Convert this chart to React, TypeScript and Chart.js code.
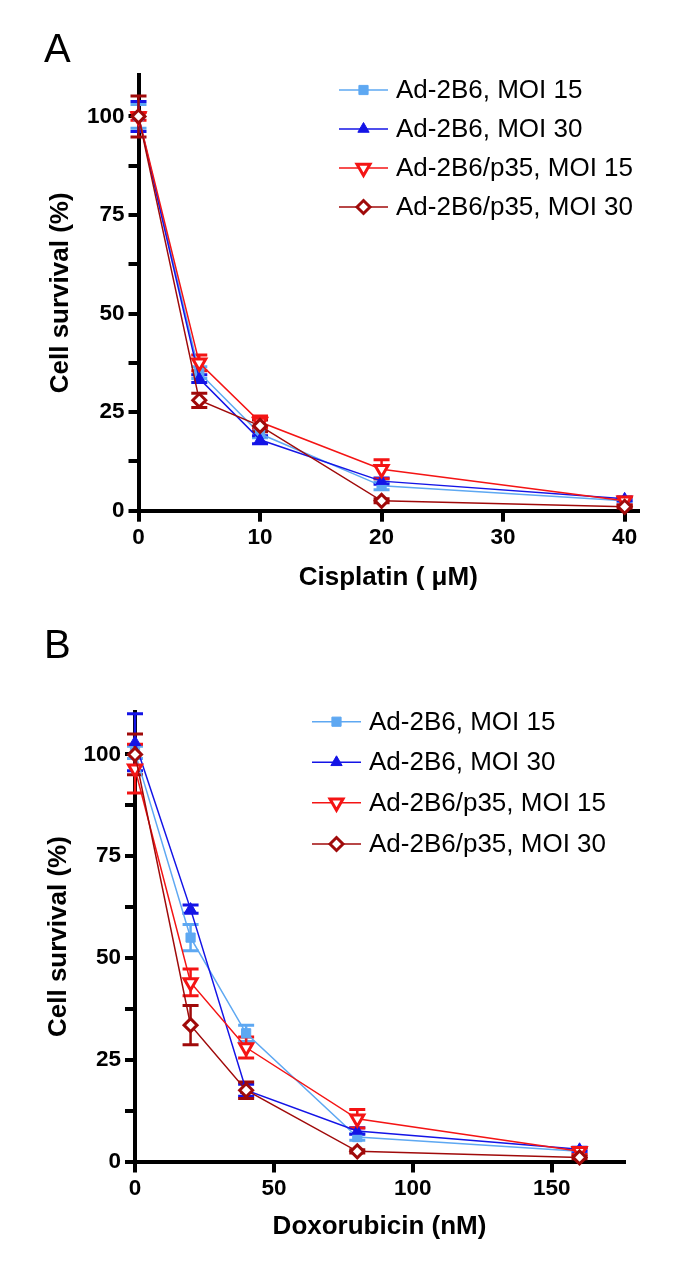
import React, { useEffect, useRef } from 'react';
import { Chart, registerables } from 'chart.js';
import { drawPoint } from 'chart.js/helpers';

Chart.register(...registerables);

// ---------- data ----------
const seriesNames = ['Ad-2B6, MOI 15', 'Ad-2B6, MOI 30', 'Ad-2B6/p35, MOI 15', 'Ad-2B6/p35, MOI 30'];

const cisplatinDoses = [0, 5, 10, 20, 40];
const cisMoi15 = [100, 35, 19.5, 6.3, 2.5];
const cisMoi15Err = [3, 1.5, 1, 1, 0.5];
const cisMoi30 = [100, 33.5, 18, 7.5, 3];
const cisMoi30Err = [3.8, 1, 1, 0.8, 0.5];
const cisP35Moi15 = [100, 37.5, 22.5, 10.5, 2.5];
const cisP35Moi15Err = [1, 2, 1.5, 2.4, 1];
const cisP35Moi30 = [100, 28, 21.5, 2.5, 1];
const cisP35Moi30Err = [5.2, 1.8, 1.5, 0.5, 0.3];
const cisXTicks = [0, 10, 20, 30, 40];

const doxDoses = [0, 20, 40, 80, 160];
const doxMoi15 = [100.5, 55, 31.5, 6, 2.5];
const doxMoi15Err = [1.5, 3.2, 2, 0.8, 0.5];
const doxMoi30 = [103, 62, 17.5, 7.5, 3];
const doxMoi30Err = [7, 1, 1.5, 0.8, 0.5];
const doxP35Moi15 = [96.5, 44, 28, 10.5, 2.5];
const doxP35Moi15Err = [6, 3.3, 2.6, 2.3, 0.8];
const doxP35Moi30 = [100, 33.5, 17.5, 2.5, 1];
const doxP35Moi30Err = [5, 4.8, 2, 0.4, 0.3];
const doxXTicks = [0, 50, 100, 150];

const yTicks = [0, 12.5, 25, 37.5, 50, 62.5, 75, 87.5, 100];

// ---------- styles ----------
const FONT = "'Liberation Sans', Arial, Helvetica, sans-serif";
const colors = ['#5ea8f2', '#1414e6', '#f41414', '#a00a0a'];
const styles: any[] = [
  { pointStyle: 'rect', pointRadius: 6.5, rotation: 0, fill: true, bw: 1 },
  { pointStyle: 'triangle', pointRadius: 6.5, rotation: 0, fill: true, bw: 1 },
  { pointStyle: 'triangle', pointRadius: 7.5, rotation: 180, fill: false, bw: 3 },
  { pointStyle: 'rectRot', pointRadius: 6.5, rotation: 0, fill: false, bw: 3 },
];
const drawOrder = [4, 3, 2, 1];
const TITLE_SIZE = 26;

function makeDatasets(xs: number[], ys: number[][], errs: number[][]) {
  return ys.map((vals, i) => ({
    label: seriesNames[i],
    data: vals.map((v, j) => ({ x: xs[j], y: v })),
    errors: errs[i],
    borderColor: colors[i],
    backgroundColor: styles[i].fill ? colors[i] : '#ffffff',
    borderWidth: 1.5,
    pointStyle: styles[i].pointStyle,
    pointRadius: styles[i].pointRadius,
    pointRotation: styles[i].rotation,
    pointBorderWidth: styles[i].bw,
    pointBorderColor: colors[i],
    pointBackgroundColor: styles[i].fill ? colors[i] : '#ffffff',
    tension: 0,
    clip: false as any,
    order: drawOrder[i],
  }));
}

const errorBarPlugin = {
  id: 'errorBars',
  beforeDatasetsDraw(chart: any) {
    const { ctx } = chart;
    const xs = chart.scales.x;
    const ys = chart.scales.y;
    const metas = chart.getSortedVisibleDatasetMetas().slice().reverse();
    metas.forEach((meta: any) => {
      const ds: any = chart.data.datasets[meta.index];
      const errs: number[] = ds.errors || [];
      ctx.save();
      ctx.strokeStyle = ds.borderColor;
      ds.data.forEach((p: any, i: number) => {
        const e = errs[i];
        if (!e) return;
        const x = xs.getPixelForValue(p.x);
        const yTop = ys.getPixelForValue(p.y + e);
        const yBot = ys.getPixelForValue(p.y - e);
        ctx.lineWidth = 2.5;
        ctx.beginPath();
        ctx.moveTo(x, yTop);
        ctx.lineTo(x, yBot);
        ctx.stroke();
        ctx.lineWidth = 3;
        ctx.beginPath();
        ctx.moveTo(x - 8, yTop);
        ctx.lineTo(x + 8, yTop);
        ctx.moveTo(x - 8, yBot);
        ctx.lineTo(x + 8, yBot);
        ctx.stroke();
      });
      ctx.restore();
    });
  },
};

const decorPlugin = {
  id: 'decor',
  afterDraw(chart: any, _args: any, opts: any) {
    const { ctx } = chart;
    ctx.save();
    // panel letter
    ctx.fillStyle = '#000';
    ctx.font = `${opts.letterSize}px ${FONT}`;
    ctx.textAlign = 'left';
    ctx.textBaseline = 'middle';
    ctx.fillText(opts.letter, opts.letterX, opts.letterY);
    // legend
    chart.data.datasets.forEach((ds: any, i: number) => {
      const y = opts.rows[i];
      ctx.strokeStyle = ds.borderColor;
      ctx.lineWidth = 1.5;
      ctx.beginPath();
      ctx.moveTo(opts.lineX0, y);
      ctx.lineTo(opts.lineX1, y);
      ctx.stroke();
      ctx.fillStyle = ds.pointBackgroundColor;
      ctx.strokeStyle = ds.pointBorderColor;
      ctx.lineWidth = ds.pointBorderWidth;
      drawPoint(ctx, { pointStyle: ds.pointStyle, radius: ds.pointRadius, rotation: ds.pointRotation, borderWidth: ds.pointBorderWidth } as any, (opts.lineX0 + opts.lineX1) / 2, y);
      ctx.fillStyle = '#000';
      ctx.font = `${opts.legendSize}px ${FONT}`;
      ctx.textBaseline = 'middle';
      ctx.fillText(ds.label, opts.textX, y + 1);
    });
    ctx.restore();
  },
};

interface PanelCfg {
  width: number;
  height: number;
  xs: number[];
  ys: number[][];
  errs: number[][];
  xMax: number;
  xTicks: number[];
  xTitle: string;
  areaLeft: number;
  areaRight: number;
  areaTop: number;
  areaBottom: number;
  yTitleX: number;
  xTitleY: number;
  decor: any;
}

function Panel({ cfg }: { cfg: PanelCfg }) {
  const ref = useRef<HTMLCanvasElement>(null);
  useEffect(() => {
    document.body.style.margin = '0';
    const c = cfg;
    const titleFont = { family: FONT, size: TITLE_SIZE, weight: 'bold' as const, lineHeight: 1.2 };
    const tickFont = { family: FONT, size: 22.5, weight: 'bold' as const };
    const half = (TITLE_SIZE * 1.2) / 2;
    const chart = new Chart(ref.current as HTMLCanvasElement, {
      type: 'line',
      data: { datasets: makeDatasets(c.xs, c.ys, c.errs) as any },
      options: {
        responsive: false,
        animation: false,
        devicePixelRatio: 1,
        layout: { padding: { top: c.areaTop, right: c.width - c.areaRight, left: 0, bottom: 0 } },
        plugins: {
          legend: { display: false },
          tooltip: { enabled: false },
          decor: c.decor,
        } as any,
        scales: {
          x: {
            type: 'linear',
            min: 0,
            max: c.xMax,
            afterBuildTicks: (s: any) => {
              s.ticks = c.xTicks.map((v) => ({ value: v }));
            },
            afterFit: (s: any) => {
              s.height = c.height - c.areaBottom;
            },
            grid: { drawOnChartArea: false, drawTicks: true, tickLength: 11, tickWidth: 4, color: '#000', lineWidth: 4 },
            border: { display: true, color: '#000', width: 4 },
            ticks: { color: '#000', font: tickFont, padding: 3, maxRotation: 0, autoSkip: false },
            title: {
              display: true,
              text: c.xTitle,
              color: '#000',
              font: titleFont,
              padding: { top: 0, bottom: c.height - c.xTitleY - half },
            },
          },
          y: {
            type: 'linear',
            min: 0,
            max: 110.5,
            afterBuildTicks: (s: any) => {
              s.ticks = yTicks.map((v) => ({ value: v }));
            },
            afterFit: (s: any) => {
              s.width = c.areaLeft;
            },
            grid: { drawOnChartArea: false, drawTicks: true, tickLength: 10, tickWidth: 4, color: '#000', lineWidth: 4 },
            border: { display: true, color: '#000', width: 4 },
            ticks: {
              color: '#000',
              font: tickFont,
              padding: 4,
              autoSkip: false,
              callback: (v: any) => (Number(v) % 25 === 0 ? String(v) : ''),
            },
            title: {
              display: true,
              text: 'Cell survival (%)',
              color: '#000',
              font: titleFont,
              padding: { top: c.yTitleX - half, bottom: 0 },
            },
          },
        },
      },
      plugins: [errorBarPlugin, decorPlugin],
    });
    return () => chart.destroy();
  }, [cfg]);
  return <canvas ref={ref} width={cfg.width} height={cfg.height} style={{ display: 'block', width: cfg.width, height: cfg.height }} />;
}

const panelA: PanelCfg = {
  width: 685,
  height: 600,
  xs: cisplatinDoses,
  ys: [cisMoi15, cisMoi30, cisP35Moi15, cisP35Moi30],
  errs: [cisMoi15Err, cisMoi30Err, cisP35Moi15Err, cisP35Moi30Err],
  xMax: 41.1,
  xTicks: cisXTicks,
  xTitle: 'Cisplatin ( \u03bcM)',
  areaLeft: 138.5,
  areaRight: 638,
  areaTop: 75,
  areaBottom: 510.7,
  yTitleX: 61,
  xTitleY: 578,
  decor: {
    letter: 'A', letterX: 44, letterY: 51, letterSize: 40,
    rows: [90, 129, 168, 207], lineX0: 339, lineX1: 388, textX: 396, legendSize: 26,
  },
};

const panelB: PanelCfg = {
  width: 685,
  height: 663,
  xs: doxDoses,
  ys: [doxMoi15, doxMoi30, doxP35Moi15, doxP35Moi30],
  errs: [doxMoi15Err, doxMoi30Err, doxP35Moi15Err, doxP35Moi30Err],
  xMax: 176,
  xTicks: doxXTicks,
  xTitle: 'Doxorubicin (nM)',
  areaLeft: 135,
  areaRight: 624,
  areaTop: 111.7,
  areaBottom: 561.5,
  yTitleX: 59,
  xTitleY: 627,
  decor: {
    letter: 'B', letterX: 44, letterY: 47, letterSize: 40,
    rows: [121.7, 162.3, 202.7, 244], lineX0: 312, lineX1: 361, textX: 369, legendSize: 26,
  },
};

export default function App() {
  return (
    <div style={{ width: 685, height: 1263, background: '#fff' }}>
      <Panel cfg={panelA} />
      <Panel cfg={panelB} />
    </div>
  );
}
